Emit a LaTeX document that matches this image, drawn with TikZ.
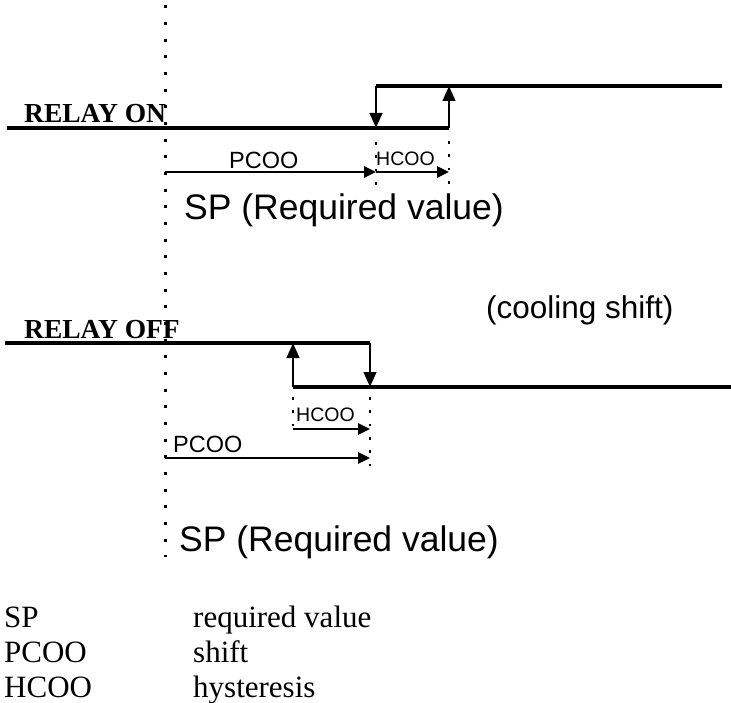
\documentclass[tikz,border=0pt]{standalone}
\usepackage{fontspec}
\setmainfont{Liberation Serif}
\setsansfont{Liberation Sans}
\usetikzlibrary{arrows.meta}

\begin{document}
\begin{tikzpicture}[x=1pt,y=-1pt,
  signal/.style={line width=3.2pt},
  switch/.style={-{Triangle[length=15pt,width=12.5pt]},line width=2.7pt},
  gap/.style={-{Triangle[length=12pt,width=11pt]},line width=2.7pt},
  axis/.style={line width=3pt,dash pattern=on 3pt off 13.67pt},
  guide/.style={line width=2.8pt,dash pattern=on 2.8pt off 10.5pt},
  title/.style={font=\bfseries\fontsize{27.5}{30}\selectfont,inner sep=0pt,anchor=base west},
  caption/.style={font=\sffamily\fontsize{35.5}{38}\selectfont,inner sep=0pt,anchor=base west},
  note/.style={font=\sffamily\fontsize{#1}{#1}\selectfont,inner sep=0pt,anchor=base west},
  legend/.style={font=\fontsize{31}{35}\selectfont,inner sep=0pt,anchor=base west}
]
  \useasboundingbox (0,0) rectangle (731,703);

  \coordinate (top) at (165,5.2);
  \coordinate (bottom) at (165,557);
  \draw[axis] (top) -- (bottom);

  \coordinate (onA) at (7,128);
  \coordinate (onB) at (376,128);
  \coordinate (onC) at (376,86);
  \coordinate (onD) at (449,128);
  \coordinate (onE) at (722,86);
  \coordinate (onF) at (449,86);
  \draw[signal] (onA) -- (onD);
  \draw[signal] (onC) -- (onE);
  \path[switch] (onC) edge (onB) (onD) edge (onF);

  \coordinate (onP) at (165,172);
  \coordinate (onQ) at (376,172);
  \coordinate (onR) at (449,172);
  \path[gap] (onP) edge (onQ) (onQ) edge (onR);
  \draw[guide] (376,142) coordinate (onG1) -- (376,186) coordinate (onG2);
  \draw[guide] (449,141) coordinate (onH1) -- (449,186) coordinate (onH2);

  \coordinate (offA) at (5,343);
  \coordinate (offB) at (370,343);
  \coordinate (offC) at (370,387);
  \coordinate (offD) at (293,387);
  \coordinate (offE) at (731,387);
  \coordinate (offF) at (293,343);
  \draw[signal] (offA) -- (offB);
  \draw[signal] (offD) -- (offE);
  \path[switch] (offB) edge (offC) (offD) edge (offF);

  \coordinate (offH) at (293,429);
  \coordinate (offI) at (370,429);
  \coordinate (offP) at (165,458);
  \coordinate (offQ) at (370,458);
  \path[gap] (offH) edge (offI) (offP) edge (offQ);
  \draw[guide] (293,397) coordinate (offG1) -- (293,430) coordinate (offG2);
  \draw[guide] (370,397) coordinate (offK1) -- (370,466) coordinate (offK2);

  \node[title] (on) at (24,122.7) {RELAY ON};
  \node[title] (off) at (24,338) {RELAY OFF};
  \node[note=23.5] (pcooOn) at (229,168.3) {PCOO};
  \node[note=19.5] (hcooOn) at (376,166) {HCOO};
  \node[note=19.5] (hcooOff) at (296,421.7) {HCOO};
  \node[note=23.5] (pcooOff) at (173,452.7) {PCOO};
  \node[caption] (spOn) at (184,220) {SP (Required value)};
  \node[caption] (spOff) at (179,551) {SP (Required value)};
  \node[note=31.5] (cool) at (486,319) {(cooling shift)};

  \node[legend] (keySP) at (4,627) {SP};
  \node[legend] (valSP) at (193,627) {required value};
  \node[legend] (keyPC) at (4,662) {PCOO};
  \node[legend] (valPC) at (193,662) {shift};
  \node[legend] (keyHC) at (4,697) {HCOO};
  \node[legend] (valHC) at (193,697) {hysteresis};
\end{tikzpicture}
\end{document}
